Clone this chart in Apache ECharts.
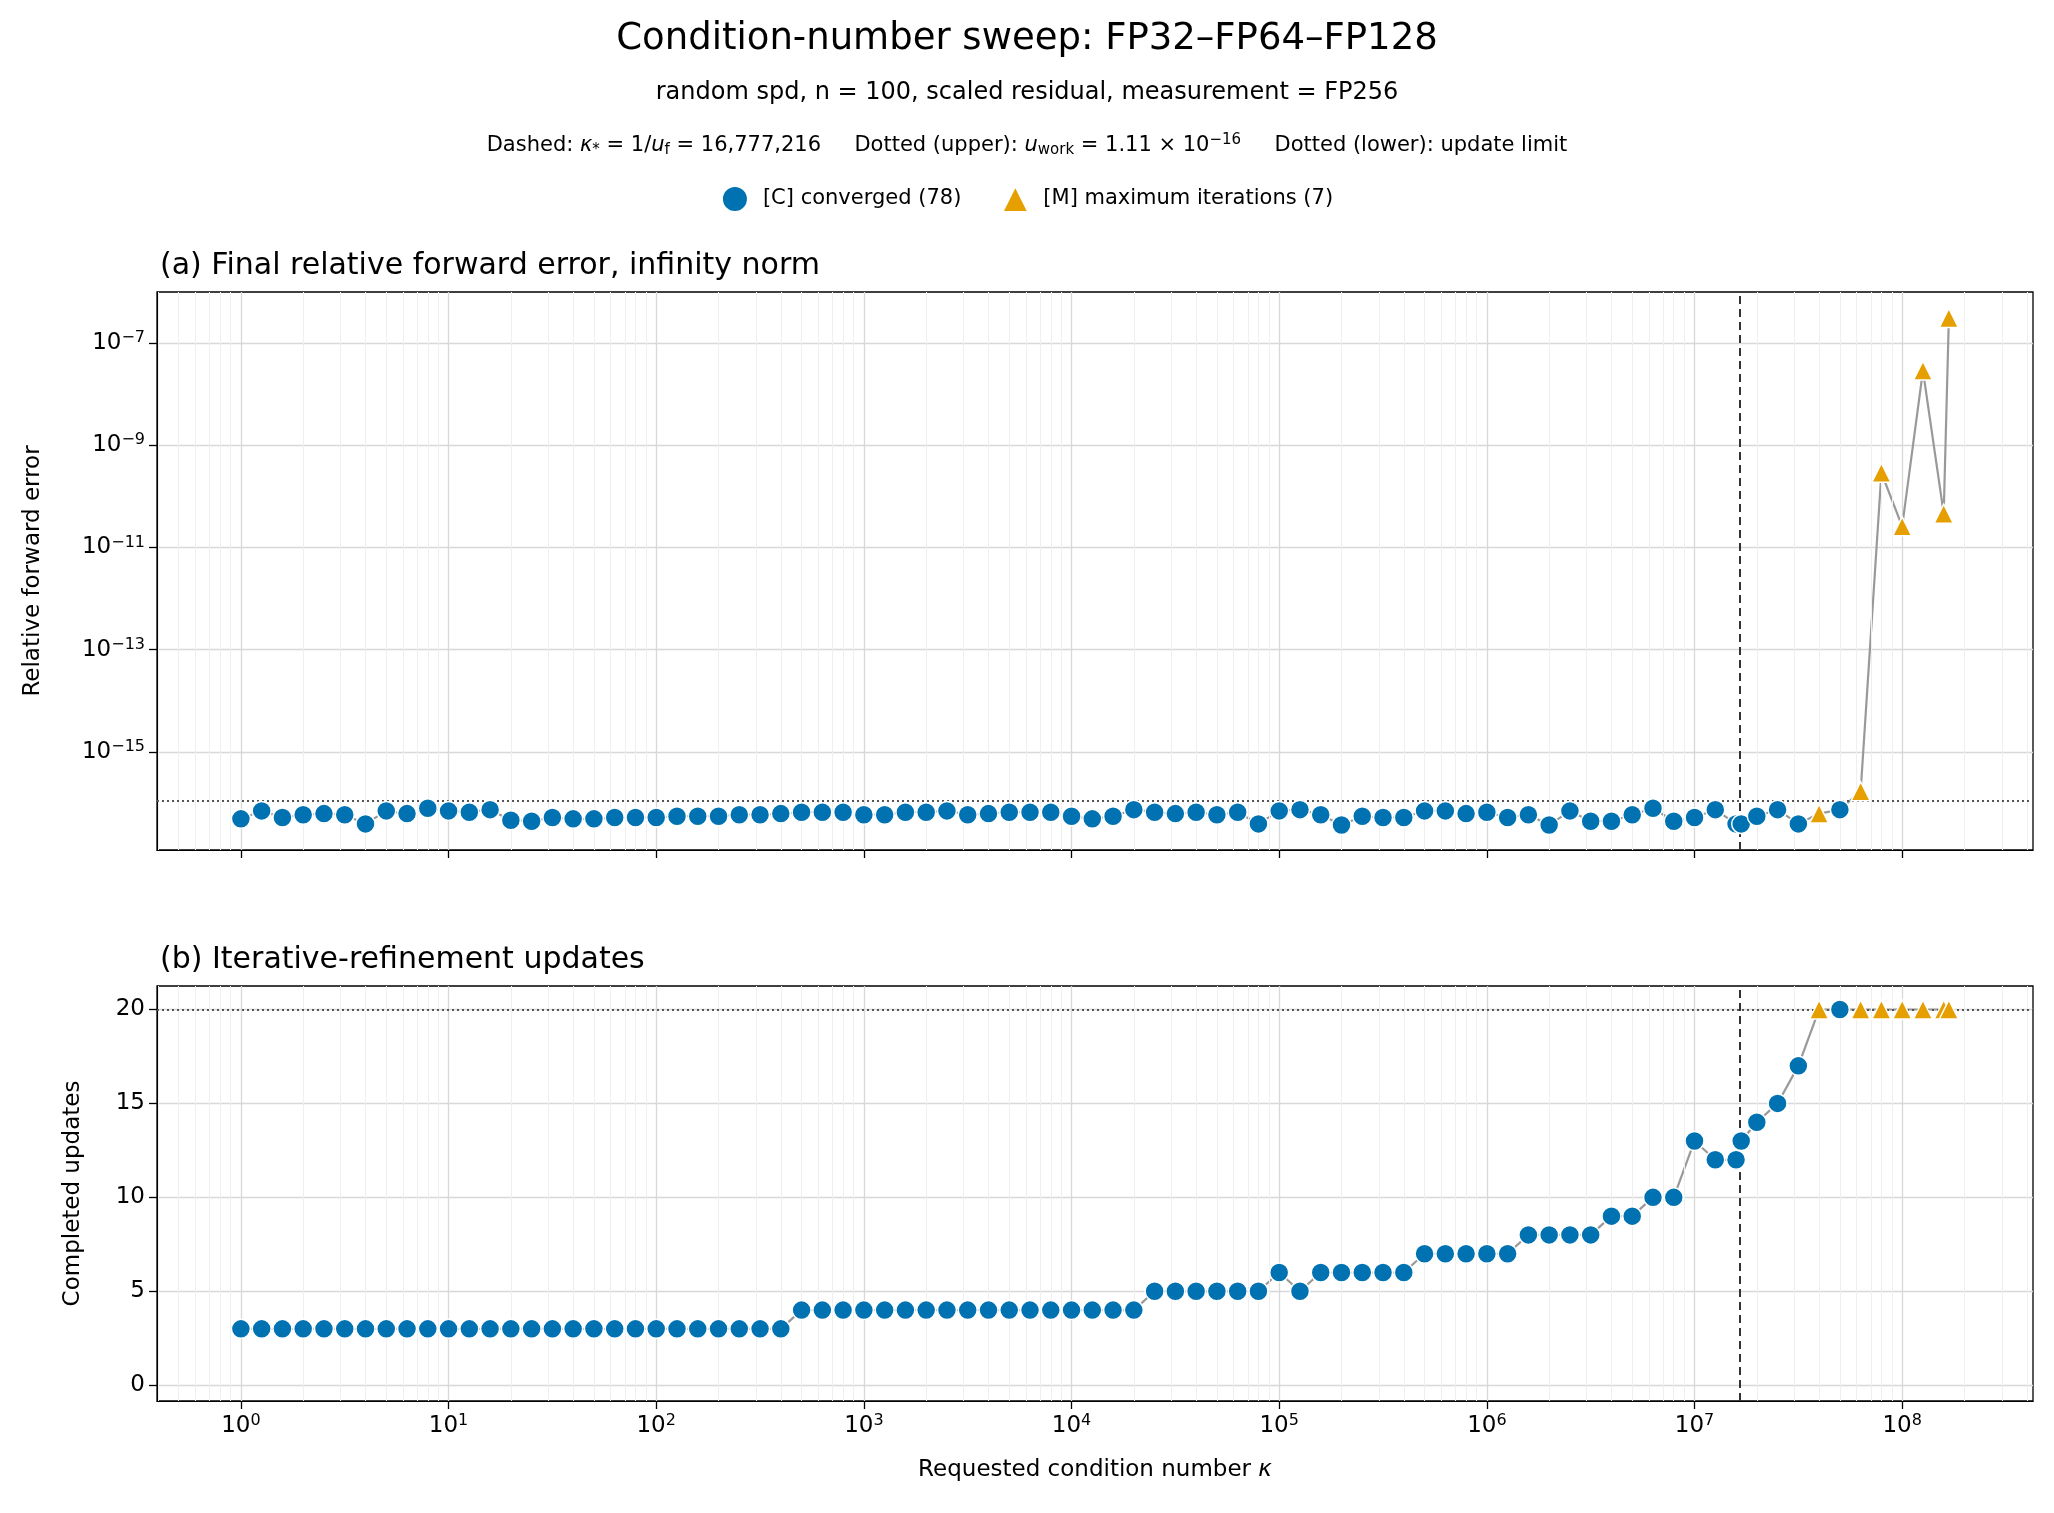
<!DOCTYPE html>
<html>
<head>
<meta charset="utf-8">
<script src="https://cdn.jsdelivr.net/npm/echarts@6/dist/echarts.min.js"></script>
<style>html,body{margin:0;background:#fff}#c{width:2054px;height:1513px}</style>
</head>
<body>
<div id="c"></div>
<script>
// log10 of requested kappa (10 per decade, plus kappa* = 2^24 and 10*kappa*)
const kappaExp = [0,0.1,0.2,0.3,0.4,0.5,0.6,0.7,0.8,0.9,1,1.1,1.2,1.3,1.4,1.5,1.6,1.7,1.8,1.9,
  2,2.1,2.2,2.3,2.4,2.5,2.6,2.7,2.8,2.9,3,3.1,3.2,3.3,3.4,3.5,3.6,3.7,3.8,3.9,
  4,4.1,4.2,4.3,4.4,4.5,4.6,4.7,4.8,4.9,5,5.1,5.2,5.3,5.4,5.5,5.6,5.7,5.8,5.9,
  6,6.1,6.2,6.3,6.4,6.5,6.6,6.7,6.8,6.9,7,7.1,7.2,7.2248,7.3,7.4,7.5,7.6,7.7,7.8,7.9,
  8,8.1,8.2,8.2248];
const forwardError = [4.9e-17,7.0e-17,5.2e-17,5.9e-17,6.2e-17,5.9e-17,3.9e-17,7.0e-17,6.2e-17,7.9e-17,
  7.0e-17,6.6e-17,7.4e-17,4.6e-17,4.4e-17,5.2e-17,4.9e-17,4.9e-17,5.2e-17,5.2e-17,
  5.2e-17,5.5e-17,5.5e-17,5.5e-17,5.9e-17,5.9e-17,6.2e-17,6.6e-17,6.6e-17,6.6e-17,
  5.9e-17,5.9e-17,6.6e-17,6.6e-17,7.0e-17,5.9e-17,6.2e-17,6.6e-17,6.6e-17,6.6e-17,
  5.5e-17,4.9e-17,5.5e-17,7.4e-17,6.6e-17,6.2e-17,6.6e-17,5.9e-17,6.6e-17,3.9e-17,
  7.0e-17,7.4e-17,5.9e-17,3.7e-17,5.5e-17,5.2e-17,5.2e-17,7.0e-17,7.0e-17,6.2e-17,
  6.6e-17,5.2e-17,5.9e-17,3.7e-17,7.0e-17,4.4e-17,4.4e-17,5.9e-17,7.9e-17,4.4e-17,
  5.2e-17,7.4e-17,3.9e-17,3.9e-17,5.5e-17,7.4e-17,3.9e-17,6.2e-17,7.4e-17,1.7e-16,
  2.9e-10,2.6e-11,2.9e-8,4.6e-11,3.1e-7];
const updates = [3,3,3,3,3,3,3,3,3,3,3,3,3,3,3,3,3,3,3,3,3,3,3,3,3,3,3,
  4,4,4,4,4,4,4,4,4,4,4,4,4,4,4,4,4,
  5,5,5,5,5,5,6,5,6,6,6,6,6,7,7,7,7,7,8,8,8,8,9,9,10,10,13,12,12,13,
  14,15,17,20,20,20,20,20,20,20,20];
const status = kappaExp.map((_, i) => 'C');
[77,79,80,81,82,83,84].forEach(i => status[i] = 'M');
const xTicks = [0,1,2,3,4,5,6,7,8];
const errTicks = [-15,-13,-11,-9,-7];
const updTicks = [0,5,10,15,20];
const kappaStar = 7.2248, uWork = 1.11e-16, updateLimit = 20;

const nameC = '[C] converged (78)', nameM = '[M] maximum iterations (7)';
const blue = '#0072B2', orange = '#E69F00';
const font = 'DejaVu Sans';

const minorX = [];
for (let n = -1; n <= 8; n++) for (let k = 2; k <= 9; k++) {
  const v = n + Math.log10(k);
  if (v > -0.404 && v < 8.63) minorX.push({xAxis: v});
}

const ptsErr = kappaExp.map((x, i) => [x, Math.log10(forwardError[i])]);
const ptsUpd = kappaExp.map((x, i) => [x, updates[i]]);
const pick = (pts, s) => pts.filter((p, i) => status[i] === s);

const sup = {fontSize: 16, verticalAlign: 'top', padding: [0,0,10,0], fontFamily: font, color: '#000'};
const base = {fontSize: 23, fontFamily: font, color: '#000'};
const xAxisBase = {
  type: 'value', min: -0.404, max: 8.63,
  axisLine: {show: true, onZero: false, lineStyle: {color: '#000'}},
  axisTick: {show: true, customValues: xTicks, length: 8, lineStyle: {color: '#000', width: 1.3}},
  splitLine: {show: true, lineStyle: {color: '#d8d8d8', width: 1.3}},
  axisLabel: {customValues: xTicks, formatter: v => '10{s|' + v + '}', rich: {s: sup}, ...base, margin: 12}
};
const yAxisBase = {
  type: 'value', nameLocation: 'middle',
  nameTextStyle: {fontSize: 23, fontFamily: font, color: '#000'},
  axisLine: {show: true, onZero: false, lineStyle: {color: '#000'}},
  splitLine: {show: true, lineStyle: {color: '#d8d8d8', width: 1.3}}
};
function frameSeries(gi) {
  return {
    type: 'line', xAxisIndex: gi, yAxisIndex: gi, data: [], silent: true, z: 0,
    markLine: {silent: true, symbol: 'none', label: {show: false}, animation: false,
      lineStyle: {color: '#efefef', width: 1, type: 'solid'}, data: minorX}
  };
}
function refLines(gi, yVal) {
  return {
    type: 'line', xAxisIndex: gi, yAxisIndex: gi, data: [], silent: true, z: 1,
    markLine: {silent: true, symbol: 'none', label: {show: false}, animation: false, data: [
      {xAxis: kappaStar, lineStyle: {color: '#333', type: [8, 5], width: 2}},
      {yAxis: yVal, lineStyle: {color: '#555', type: [2, 3], width: 1.8}}
    ]}
  };
}
function dataSeries(gi, pts) {
  return [
    {type: 'line', xAxisIndex: gi, yAxisIndex: gi, data: pts, showSymbol: false, z: 2,
      lineStyle: {color: '#999', width: 2.2}},
    {type: 'scatter', name: nameC, xAxisIndex: gi, yAxisIndex: gi, data: pick(pts, 'C'), z: 5,
      symbol: 'circle', symbolSize: 19, itemStyle: {color: blue, opacity: 1, borderColor: '#fff', borderWidth: 1.5}},
    {type: 'scatter', name: nameM, xAxisIndex: gi, yAxisIndex: gi, data: pick(pts, 'M'), z: 5,
      symbol: 'triangle', symbolSize: 19, itemStyle: {color: orange, opacity: 1, borderColor: '#fff', borderWidth: 1.5}}
  ];
}

const chart = echarts.init(document.getElementById('c'));
chart.setOption({
  animation: false,
  backgroundColor: '#fff',
  title: [
    {text: 'Condition-number sweep: FP32–FP64–FP128', left: 'center', top: 16,
      textStyle: {fontSize: 37, fontWeight: 'normal', fontFamily: font, color: '#000'}},
    {text: 'random spd, n = 100, scaled residual, measurement = FP256', left: 'center', top: 76,
      textStyle: {fontSize: 24, fontWeight: 'normal', fontFamily: font, color: '#000'}},
    {text: 'Dashed: {i|κ}{sb|*} = 1/{i|u}{sb|f} = 16,777,216     Dotted (upper): {i|u}{sb|work} = 1.11 × 10{sp|−16}     Dotted (lower): update limit',
      left: 'center', top: 128,
      textStyle: {fontSize: 21, fontWeight: 'normal', fontFamily: font, color: '#000',
        rich: {i: {fontStyle: 'italic', fontSize: 21, fontFamily: font},
          sb: {fontSize: 15, verticalAlign: 'bottom', padding: [10,0,0,0], fontFamily: font},
          sp: {fontSize: 15, verticalAlign: 'top', padding: [0,0,10,0], fontFamily: font}}}},
    {text: '(a) Final relative forward error, infinity norm', left: 155, top: 246,
      textStyle: {fontSize: 30, fontWeight: 'normal', fontFamily: font, color: '#000'}},
    {text: '(b) Iterative-refinement updates', left: 155, top: 940,
      textStyle: {fontSize: 30, fontWeight: 'normal', fontFamily: font, color: '#000'}}
  ],
  legend: {top: 180, left: 'center', itemGap: 40, itemWidth: 26, itemHeight: 26,
    data: [nameC, nameM], textStyle: {fontSize: 21, fontFamily: font, color: '#000', padding: [0,0,0,10]}},
  grid: [
    {left: 157, right: 21, top: 292, height: 558, show: true, borderColor: '#000', borderWidth: 1.3},
    {left: 157, right: 21, top: 986, height: 415, show: true, borderColor: '#000', borderWidth: 1.3}
  ],
  xAxis: [
    {...xAxisBase, gridIndex: 0, axisLabel: {...xAxisBase.axisLabel, show: false}},
    {...xAxisBase, gridIndex: 1, name: 'Requested condition number {i|κ}', nameLocation: 'middle', nameGap: 58,
      nameTextStyle: {fontSize: 23, fontFamily: font, color: '#000', rich: {i: {fontStyle: 'italic', fontSize: 23, fontFamily: font}}}}
  ],
  yAxis: [
    {...yAxisBase, gridIndex: 0, min: -16.92, max: -6,
      name: 'Relative forward error', nameGap: 112,
      axisTick: {show: true, customValues: errTicks, length: 8, lineStyle: {color: '#000', width: 1.3}},
      axisLabel: {customValues: errTicks, formatter: v => '10{s|' + String(v).replace('-', '−') + '}', rich: {s: sup}, ...base, margin: 12}},
    {...yAxisBase, gridIndex: 1, min: -0.84, max: 21.25,
      name: 'Completed updates', nameGap: 72,
      axisTick: {show: true, customValues: updTicks, length: 8, lineStyle: {color: '#000', width: 1.3}},
      axisLabel: {customValues: updTicks, ...base, margin: 12}}
  ],
  series: [
    frameSeries(0), frameSeries(1),
    refLines(0, Math.log10(uWork)), refLines(1, updateLimit),
    ...dataSeries(0, ptsErr), ...dataSeries(1, ptsUpd)
  ]
});
</script>
</body>
</html>
